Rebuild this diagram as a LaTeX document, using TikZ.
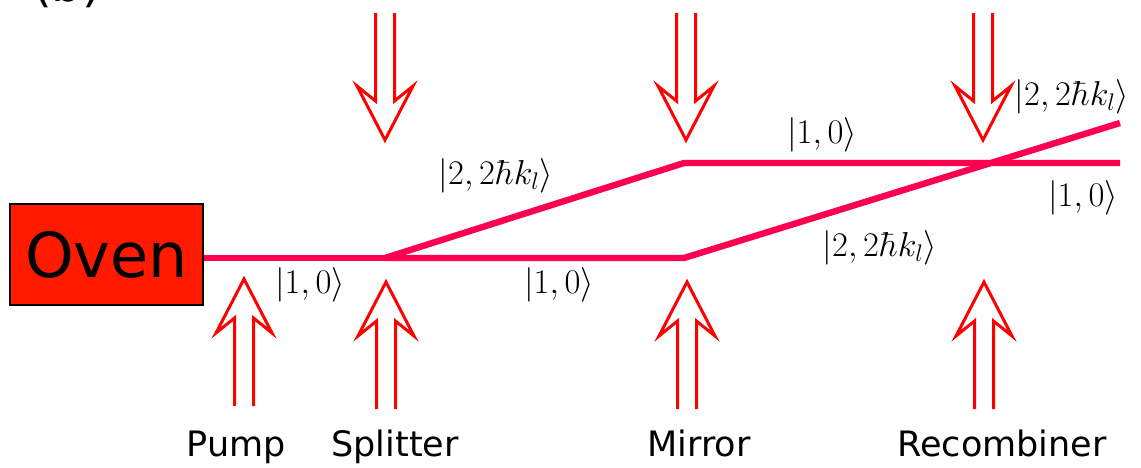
\documentclass[tikz,border=0pt]{standalone}
\usepackage{fontspec}
\usepackage{amsmath,amssymb}
\usepackage{xcolor}
\usepackage{tikz}
\usetikzlibrary{positioning}
\newfontfamily\labelfont{DejaVu Sans}
\definecolor{beamred}{RGB}{255,0,80}
\definecolor{ovenred}{RGB}{255,26,0}
\definecolor{laserred}{RGB}{255,0,0}

\begin{document}
\begin{tikzpicture}[
    x=0.5pt, y=-0.5pt,
    beam/.style={draw=beamred, line width=3.2pt},
    laser/.style={draw=laserred, line width=1.5pt, miter limit=20},
    oven/.style={rectangle, draw=black, fill=ovenred, line width=1pt, minimum width=96.5pt, minimum height=50.5pt, inner sep=0pt, font=\fontsize{31}{36}\selectfont\labelfont},
    ket/.style={inner sep=0pt, font=\fontsize{18}{21}\selectfont},
    tag/.style={inner sep=0pt, anchor=base, font=\fontsize{17.5}{21}\selectfont\labelfont},
    pics/pulse/.style={code={
        \draw[laser] (-9.5,0) -- (-9.5,88) -- (-28,73) -- (0,127) -- (28,73) -- (9.5,88) -- (9.5,0);
    }}
]
    \useasboundingbox (0,0) rectangle (1141,467);

    % Panel label (cut at the top)
    \node[inner sep=0pt, anchor=base, font=\fontsize{24}{28}\selectfont\labelfont] (panel) at (67,1) {(b)};

    % Oven
    \node[oven] (oven) at (106.5,254.5) {Oven};

    % Beam points
    \coordinate (split) at (385,258);
    \coordinate (mirup) at (684,163);
    \coordinate (mirlow) at (684,258);
    \coordinate (outup) at (1120,163);
    \coordinate (outdiag) at (1120,123);

    % Atom beams
    \draw[beam] (oven.east |- split) -- (split);
    \draw[beam] (split) -- (mirup) -- (outup);
    \draw[beam] (split) -- (mirlow) -- (outdiag);

    % Laser pulses from above
    \pic at (385,13) {pulse};
    \pic at (686,13) {pulse};
    \pic at (983,13) {pulse};

    % Laser pulses from below
    \pic[rotate=180] at (244,406) {pulse};
    \pic[rotate=180] at (386,409) {pulse};
    \pic[rotate=180] at (687,409) {pulse};
    \pic[rotate=180] at (984,409) {pulse};

    % States
    \node[ket] (k1) at (310,285) {$|1,0\rangle$};
    \node[ket] (k2) at (496,176) {$|2,2\hbar k_l\rangle$};
    \node[ket] (k3) at (559,285) {$|1,0\rangle$};
    \node[ket] (k4) at (822,135) {$|1,0\rangle$};
    \node[ket] (k5) at (880,248) {$|2,2\hbar k_l\rangle$};
    \node[ket] (k6) at (1072,97) {$|2,2\hbar k_l\rangle$};
    \node[ket] (k7) at (1083,198) {$|1,0\rangle$};

    % Pulse names
    \node[tag] (pump) at (236,456) {Pump};
    \node[tag] (splitter) at (395,456) {Splitter};
    \node[tag] (mirror) at (699,456) {Mirror};
    \node[tag] (recomb) at (1002,456) {Recombiner};

\end{tikzpicture}
\end{document}
